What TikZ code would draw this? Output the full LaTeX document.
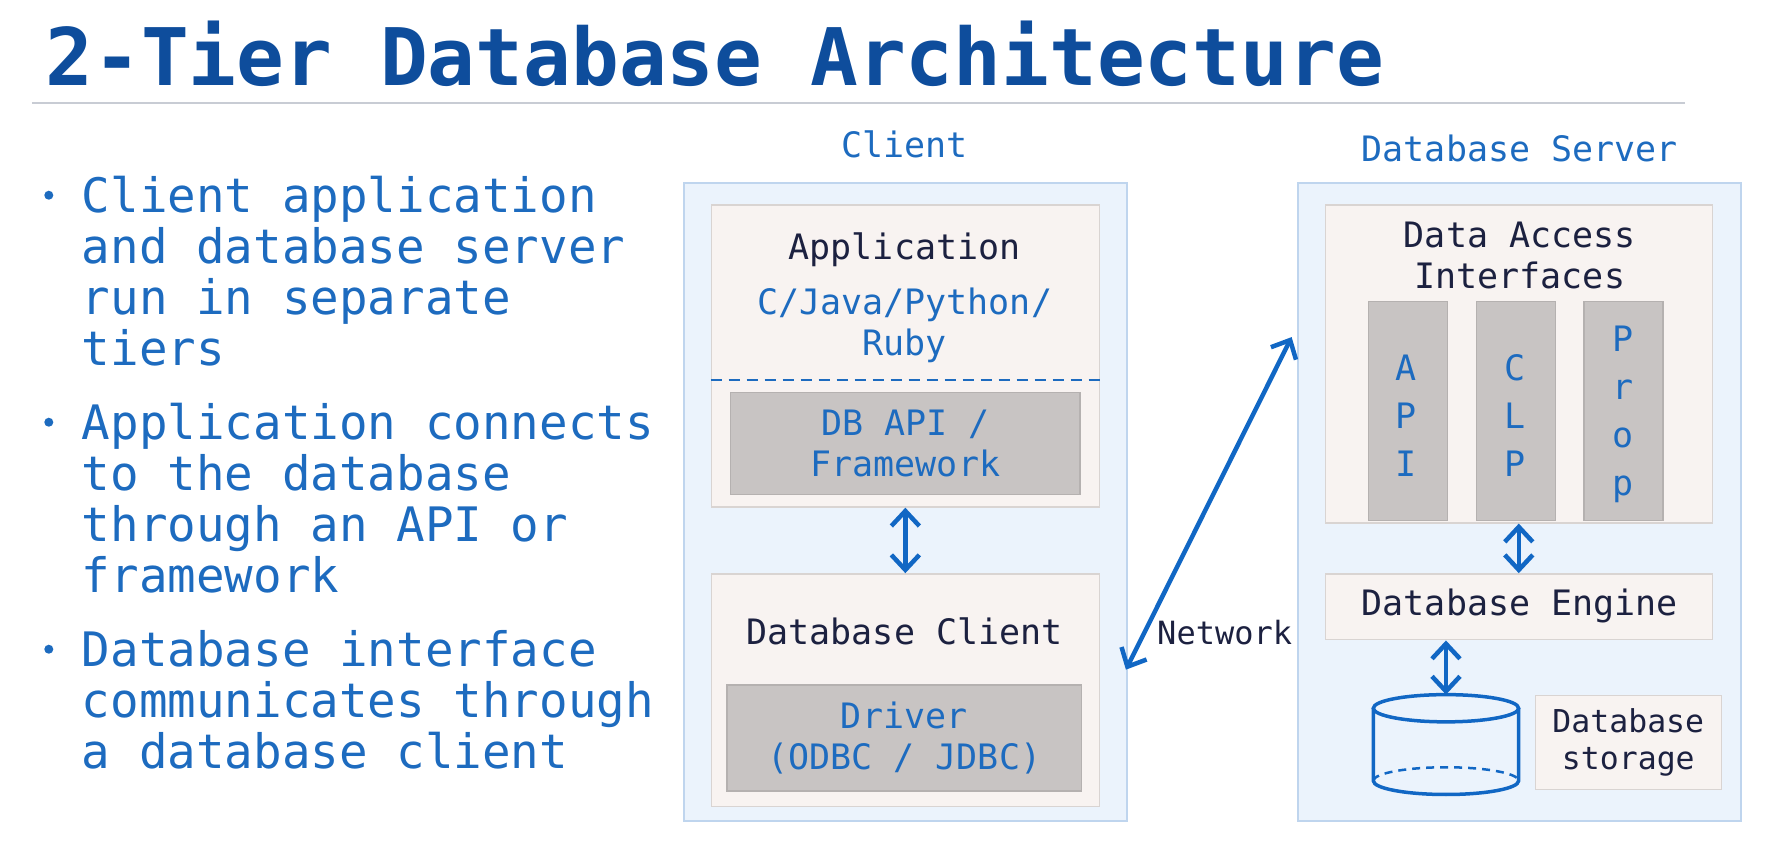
\documentclass[tikz,border=0pt]{standalone}
\usepackage{fontspec}
\setmainfont{DejaVu Sans Mono}
\usepackage{tikz}
\usetikzlibrary{positioning}
\usetikzlibrary{arrows.meta}
\definecolor{titleColor}{RGB}{14,77,156}
\definecolor{blueText}{RGB}{29,107,191}
\definecolor{darkText}{RGB}{28,33,64}
\definecolor{arrowColor}{RGB}{17,103,196}
\definecolor{tierFill}{RGB}{235,243,252}
\definecolor{tierBorder}{RGB}{191,213,238}
\definecolor{paleFill}{RGB}{248,243,241}
\definecolor{paleBorder}{RGB}{217,212,210}
\definecolor{grayFill}{RGB}{200,196,195}
\definecolor{grayBorder}{RGB}{181,177,176}
\definecolor{ruleColor}{RGB}{200,204,212}

\begin{document}
\begin{tikzpicture}[x=1.135pt,y=-1.135pt]

          \tikzstyle{titleText} = [anchor=base west, inner sep=0, titleColor, font=\fontsize{79.4}{90}\selectfont\bfseries];
          \tikzstyle{bulletText} = [anchor=north west, inner sep=0, align=left, blueText, font=\fontsize{47.5}{51}\selectfont];
          \tikzstyle{bulletDot} = [circle, fill=blueText, inner sep=0, minimum size=9pt];
          \tikzstyle{tierLabel} = [inner sep=0, blueText, font=\fontsize{35}{41}\selectfont];
          \tikzstyle{darkLabel} = [inner sep=0, align=center, darkText, font=\fontsize{35}{41}\selectfont];
          \tikzstyle{blueLabel} = [inner sep=0, align=center, blueText, font=\fontsize{35}{41}\selectfont];
          \tikzstyle{columnLabel} = [inner sep=0, align=center, blueText, font=\fontsize{35}{48}\selectfont];
          \tikzstyle{smallLabel} = [inner sep=0, align=center, darkText, font=\fontsize{31.5}{37.5}\selectfont];

          \tikzstyle{tierBox} = [draw=tierBorder, fill=tierFill, line width=2pt, anchor=north west, inner sep=0];
          \tikzstyle{paleBox} = [draw=paleBorder, fill=paleFill, line width=1.5pt, anchor=north west, inner sep=0];
          \tikzstyle{grayBox} = [draw=grayBorder, fill=grayFill, line width=1.5pt, anchor=north west, inner sep=0];

          \tikzstyle{linkEdge} = [line width=4.5pt, arrowColor, {Straight Barb[length=15pt,width=28pt]}-{Straight Barb[length=15pt,width=28pt]}];
          \tikzstyle{sepLine} = [line width=2.5pt, blueText, dash pattern=on 11pt off 7pt];
          \tikzstyle{cylEdge} = [line width=3.5pt, arrowColor];
          \tikzstyle{ruleLine} = [line width=2pt, ruleColor];

          \useasboundingbox (0,0) rectangle (1568.3,742.7);

          % title and bullets
          \node[titleText] (title) at (40,75) {2-Tier Database Architecture};
          \draw[ruleLine] (28,91) -- (1485,91);

          \node[bulletDot] (dotA) at (43,172) {};
          \node[bulletDot] (dotB) at (43,372) {};
          \node[bulletDot] (dotC) at (43,572) {};
          \node[bulletText] (bulletA) at (72,155) {Client application\\and database server\\run in separate\\tiers};
          \node[bulletText] (bulletB) at (72,355) {Application connects\\to the database\\through an API or\\framework};
          \node[bulletText] (bulletC) at (72,555) {Database interface\\communicates through\\a database client};

          % client tier
          \node[tierLabel] (clientLabel) at (797,127) {Client};
          \node[tierBox, minimum width=442.7pt, minimum height=637.9pt] (client) at (602,160) {};
          \node[paleBox, minimum width=388.2pt, minimum height=301.9pt] (app) at (626,180) {};
          \node[darkLabel] (appTitle) at (797,220) {Application};
          \node[blueLabel] (appLang) at (797,287) {C/Java/Python/\\Ruby};
          \draw[sepLine] (app.west |- 0,335) -- (app.east |- 0,335);
          \node[grayBox, minimum width=349.6pt, minimum height=102.2pt] (dbapi) at (643,345) {};
          \node[blueLabel] (dbapiText) at (dbapi.center) {DB API /\\Framework};

          \node[paleBox, minimum width=388.2pt, minimum height=232.7pt] (dbclient) at (626,505) {};
          \node[darkLabel] (dbclientTitle) at (797,556) {Database Client};
          \node[grayBox, minimum width=354.1pt, minimum height=105.6pt] (driver) at (640,603) {};
          \node[blueLabel] (driverText) at (driver.center) {Driver\\(ODBC / JDBC)};

          % server tier
          \node[tierLabel] (serverLabel) at (1339,131) {Database Server};
          \node[tierBox, minimum width=442.7pt, minimum height=637.9pt] (server) at (1143,160) {};
          \node[paleBox, minimum width=387pt, minimum height=317.8pt] (dai) at (1167,180) {};
          \node[darkLabel] (daiTitle) at (1339,225) {Data Access\\Interfaces};
          \node[grayBox, minimum width=79pt, minimum height=219.1pt] (colApi) at (1205,265) {};
          \node[grayBox, minimum width=79pt, minimum height=219.1pt] (colClp) at (1300,265) {};
          \node[grayBox, minimum width=79pt, minimum height=219.1pt] (colProp) at (1395,265) {};
          \node[columnLabel] (colApiText) at (1239,366) {A\\P\\I};
          \node[columnLabel] (colClpText) at (1335,366) {C\\L\\P};
          \node[columnLabel] (colPropText) at (1430,365) {P\\r\\o\\p};

          \node[paleBox, minimum width=387pt, minimum height=65.8pt] (engine) at (1167,505) {};
          \node[darkLabel] (engineText) at (1339,534) {Database Engine};

          \node[paleBox, minimum width=186.1pt, minimum height=94.2pt] (storage) at (1352,612) {};
          \node[smallLabel] (storageText) at (storage.center) {Database\\storage};

          % storage cylinder
          \coordinate (dbTop) at (1274,612);
          \draw[cylEdge] (1274,624) ellipse [x radius=64, y radius=12];
          \draw[cylEdge] (1210,624) -- (1210,688) arc[start angle=180, end angle=0, x radius=64, y radius=12] -- (1338,624);
          \draw[cylEdge, line width=2.5pt, dash pattern=on 8pt off 6pt] (1210,688) arc[start angle=180, end angle=360, x radius=64, y radius=12];

          % links
          \coordinate (netClient) at (992,590);
          \coordinate (netServer) at (1138,297);
          \draw[linkEdge] (app.south) -- (dbclient.north);
          \draw[linkEdge] (dai.south) -- (engine.north);
          \draw[linkEdge] (engine.south -| dbTop) -- (dbTop);
          \draw[linkEdge] (netClient) -- (netServer);
          \node[smallLabel, font=\fontsize{32}{38}\selectfont] (netLabel) at (1079,557) {Network};
        \end{tikzpicture}
\end{document}
